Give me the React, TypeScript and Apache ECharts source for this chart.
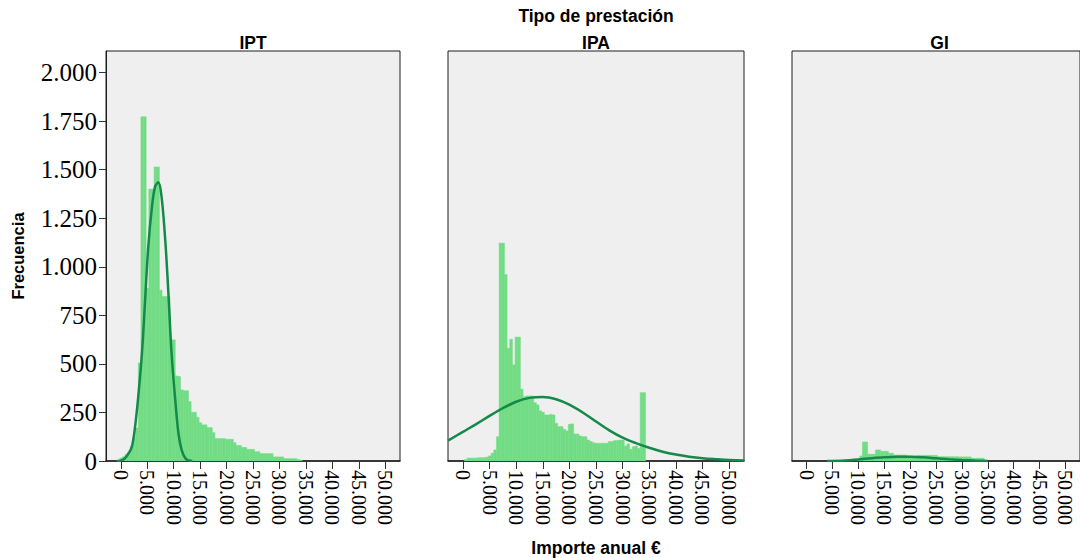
import React, { useEffect, useRef } from "react";
import * as echarts from "echarts";

// ---- data ----
const PANELS = ["IPT", "IPA", "GI"];
const BIN = 500;
const X_TICKS = [0, 5000, 10000, 15000, 20000, 25000, 30000, 35000, 40000, 45000, 50000];
const Y_TICKS = [0, 250, 500, 750, 1000, 1250, 1500, 1750, 2000];
const X_MIN = -2800;
const X_MAX = 52800;
const Y_MAX = 2111;

const IPT_START = -700;
const iptCounts = [
  5, 15, 22, 35, 46, 74, 120, 170, 505, 1772, 1772, 890, 1400, 1400, 1514, 1514, 880, 847, 847, 847,
  624, 624, 438, 435, 366, 362, 362, 306, 251, 251, 225, 197, 186, 186, 172, 172, 146, 115, 115, 115,
  115, 112, 112, 112, 94, 80, 80, 70, 70, 60, 60, 60, 48, 48, 38, 38, 38, 38, 38, 21,
  21, 21, 21, 12, 12, 12, 12, 12, 8, 4,
];

const IPA_START = 300;
const ipaCounts = [
  8, 15, 15, 15, 15, 17, 17, 17, 20, 26, 40, 57, 125, 1122, 1122, 960, 581, 627, 495, 638,
  638, 370, 331, 335, 335, 335, 300, 289, 258, 251, 237, 237, 240, 237, 194, 177, 177, 163, 155, 189,
  191, 139, 139, 129, 125, 125, 108, 100, 94, 91, 91, 91, 91, 91, 100, 100, 105, 105, 108, 108,
  77, 88, 60, 74, 77, 65, 352, 352,
];

const GI_START = 7800;
const giCounts = [
  6, 8, 10, 12, 14, 26, 98, 98, 35, 35, 35, 57, 57, 50, 50, 50, 40, 40, 31, 31,
  31, 31, 31, 26, 26, 26, 26, 29, 29, 29, 29, 29, 29, 29, 29, 22, 22, 22, 22, 22,
  22, 22, 22, 21, 21, 21, 21, 21, 14, 14, 14, 14, 14,
];

const iptCurve = [
  [-700, 0], [0, 2], [800, 14], [1500, 40], [2100, 74], [2700, 177], [3300, 331], [4000, 555],
  [4600, 830], [5200, 1105], [5900, 1311], [6500, 1414], [7100, 1435], [7700, 1362], [8400, 1139],
  [9000, 864], [9600, 555], [10300, 314], [10900, 143], [11500, 57], [12200, 14], [12800, 3], [13500, 0],
];
const ipaCurve = [
  [-2800, 105], [0, 150], [2500, 190], [5000, 232], [7500, 272], [10000, 305], [12500, 325],
  [15000, 330], [17500, 318], [20000, 290], [22500, 250], [25000, 203], [27500, 158], [30000, 120],
  [32500, 92], [35000, 68], [37500, 48], [40000, 33], [42500, 22], [45000, 14], [47500, 9],
  [50000, 5], [52800, 3],
];
const giCurve = [
  [4000, 0], [7500, 3], [10000, 8], [12500, 14], [15000, 19], [17500, 22], [20000, 22],
  [22500, 19], [25000, 14], [27500, 9], [30000, 5], [32500, 2], [35000, 0],
];

// ---- styling ----
const BAR_COLOR = "#72dc85";
const CURVE_COLOR = "#14894a";
const PLOT_BG = "#efefef";
const BORDER = "#1e1e1e";
const GRIDS = [
  { left: 106, width: 294 },
  { left: 448, width: 296 },
  { left: 792, width: 295 },
];
const TOP = 51;
const HEIGHT = 410;
const SERIF = '"Liberation Serif", "Times New Roman", serif';
const SANS = '"Liberation Sans", Arial, sans-serif';

const fmt = (v: number) => String(v).replace(/\B(?=(\d{3})+(?!\d))/g, ".");

function binData(start: number, counts: number[]) {
  return counts.map((c, k) => [start + k * BIN, c]);
}

export default function App() {
  const ref = useRef<HTMLDivElement>(null);
  useEffect(() => {
    if (!ref.current) return;
    const chart = echarts.init(ref.current, null, { renderer: "svg" });
    const starts = [IPT_START, IPA_START, GI_START];
    const counts = [iptCounts, ipaCounts, giCounts];
    const curves = [iptCurve, ipaCurve, giCurve];

    const renderBar = (params: any, api: any) => {
      const x0 = api.value(0);
      const v = api.value(1);
      const p0 = api.coord([x0, v]);
      const p1 = api.coord([x0 + BIN, 0]);
      return {
        type: "rect",
        shape: { x: p0[0], y: p0[1], width: p1[0] - p0[0], height: p1[1] - p0[1] },
        style: { fill: BAR_COLOR, stroke: BAR_COLOR, lineWidth: 0.5 },
      };
    };

    const series: any[] = [];
    PANELS.forEach((name, i) => {
      series.push({
        type: "custom",
        name: name + " histograma",
        xAxisIndex: i,
        yAxisIndex: i,
        renderItem: renderBar,
        encode: { x: 0, y: 1 },
        data: binData(starts[i], counts[i]),
        z: 2,
        clip: true,
      });
      series.push({
        type: "line",
        name: name + " normal",
        xAxisIndex: i,
        yAxisIndex: i,
        data: curves[i],
        smooth: 0.35,
        showSymbol: false,
        symbol: "none",
        lineStyle: { color: CURVE_COLOR, width: 2.5 },
        z: 3,
        clip: true,
      });
    });

    const titleStyle = (text: string, size: number) => ({
      text,
      fontFamily: SANS,
      fontWeight: "bold",
      fontSize: size,
      fill: "#000",
      align: "center",
      verticalAlign: "middle",
    });

    const option: any = {
      animation: false,
      backgroundColor: "#ffffff",
      grid: GRIDS.map((g) => ({
        left: g.left,
        width: g.width,
        top: TOP,
        height: HEIGHT,
        show: true,
        backgroundColor: PLOT_BG,
        borderColor: BORDER,
        borderWidth: 1,
        containLabel: false,
      })),
      xAxis: GRIDS.map((g, i) => ({
        type: "value",
        gridIndex: i,
        min: X_MIN,
        max: X_MAX,
        axisLine: { show: true, onZero: false, lineStyle: { color: BORDER, width: 1.5 } },
        axisTick: { show: true, customValues: X_TICKS, length: 8, lineStyle: { color: "#333", width: 1 } },
        axisLabel: {
          customValues: X_TICKS,
          rotate: -90,
          margin: 9,
          formatter: (v: number) => fmt(v),
          fontFamily: SERIF,
          fontSize: 20,
          color: "#000",
        },
        splitLine: { show: false },
      })),
      yAxis: GRIDS.map((g, i) => ({
        type: "value",
        gridIndex: i,
        min: 0,
        max: Y_MAX,
        show: i === 0,
        axisLine: { show: true, onZero: false, lineStyle: { color: BORDER, width: 1 } },
        axisTick: { show: true, customValues: Y_TICKS, length: 7, lineStyle: { color: "#333" } },
        axisLabel: {
          customValues: Y_TICKS,
          margin: 9,
          formatter: (v: number) => fmt(v),
          fontFamily: SERIF,
          fontSize: 25,
          color: "#000",
        },
        splitLine: { show: false },
      })),
      graphic: [
        { type: "text", x: 596, y: 16, style: titleStyle("Tipo de prestación", 17.5) },
        ...PANELS.map((name, i) => ({
          type: "text",
          x: GRIDS[i].left + GRIDS[i].width / 2,
          y: 43,
          style: titleStyle(name, 17.5),
        })),
        { type: "text", x: 596, y: 548, style: titleStyle("Importe anual €", 17.5) },
        { type: "text", x: 18, y: 256, rotation: Math.PI / 2, style: titleStyle("Frecuencia", 16.5) },
      ],
      series,
    };
    chart.setOption(option);
    return () => chart.dispose();
  }, []);

  return (
    <div
      ref={ref}
      style={{ position: "fixed", left: 0, top: 0, width: 1080, height: 558, background: "#fff" }}
    />
  );
}
